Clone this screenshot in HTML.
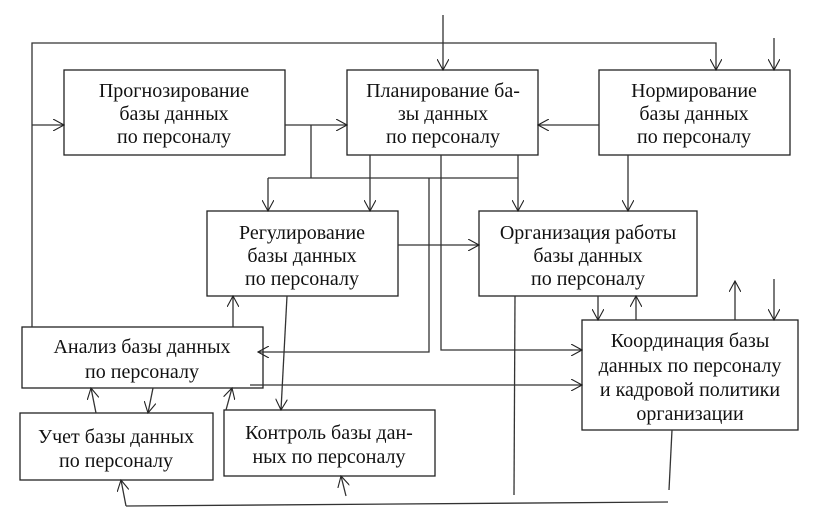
<!DOCTYPE html>
<html><head><meta charset="utf-8"><style>
html,body{margin:0;padding:0;background:#fff}
svg{display:block}
text{font-family:"Liberation Serif","DejaVu Serif",serif;font-size:20px;fill:#111;text-anchor:middle}
</style></head><body>
<svg width="828" height="528" viewBox="0 0 828 528" xmlns="http://www.w3.org/2000/svg">
<defs>
<marker id="a" markerWidth="12" markerHeight="12" refX="11" refY="6" orient="auto" markerUnits="userSpaceOnUse">
<path d="M0,0 L11,6 L0,12" fill="none" stroke="#222" stroke-width="1.1"/>
</marker>
</defs>
<g fill="#fff" stroke="#222" stroke-width="1.3">
<rect x="64" y="70" width="221" height="85"/>
<rect x="347" y="70" width="191" height="85"/>
<rect x="599" y="70" width="191" height="85"/>
<rect x="207" y="211" width="191" height="85"/>
<rect x="479" y="211" width="218" height="85"/>
<rect x="22" y="327" width="241" height="61"/>
<rect x="582" y="320" width="216" height="110"/>
<rect x="20" y="413" width="193" height="67"/>
<rect x="224" y="410" width="211" height="66"/>
</g>
<g fill="none" stroke="#333" stroke-width="1.3">
<polyline points="32,327 32,43 716,43 716,70" marker-end="url(#a)"/>
<line x1="443" y1="15" x2="443" y2="70" marker-end="url(#a)"/>
<line x1="774" y1="38" x2="774" y2="70" marker-end="url(#a)"/>
<line x1="32" y1="125" x2="64" y2="125" marker-end="url(#a)"/>
<line x1="285" y1="125" x2="347" y2="125" marker-end="url(#a)"/>
<polyline points="311,125 311,178"/>
<line x1="268" y1="178" x2="518" y2="178"/>
<line x1="268" y1="178" x2="268" y2="211" marker-end="url(#a)"/>
<line x1="370" y1="155" x2="370" y2="211" marker-end="url(#a)"/>
<line x1="518" y1="155" x2="518" y2="211" marker-end="url(#a)"/>
<line x1="599" y1="125" x2="538" y2="125" marker-end="url(#a)"/>
<line x1="628" y1="155" x2="628" y2="211" marker-end="url(#a)"/>
<line x1="398" y1="245" x2="479" y2="245" marker-end="url(#a)"/>
<polyline points="429,178 429,352 258,352" marker-end="url(#a)"/>
<polyline points="441,155 441,350 582,350" marker-end="url(#a)"/>
<line x1="250" y1="385" x2="582" y2="385" marker-end="url(#a)"/>
<line x1="233" y1="327" x2="233" y2="296" marker-end="url(#a)"/>
<line x1="287" y1="296" x2="281" y2="410" marker-end="url(#a)"/>
<line x1="598" y1="296" x2="598" y2="320" marker-end="url(#a)"/>
<line x1="636" y1="320" x2="636" y2="296" marker-end="url(#a)"/>
<line x1="515" y1="296" x2="514" y2="495"/>
<line x1="735" y1="320" x2="735" y2="281" marker-end="url(#a)"/>
<line x1="774" y1="279" x2="774" y2="320" marker-end="url(#a)"/>
<line x1="672" y1="430" x2="669" y2="490"/>
<line x1="126" y1="506" x2="668" y2="502"/>
<line x1="126" y1="506" x2="121" y2="480" marker-end="url(#a)"/>
<line x1="346" y1="496" x2="341" y2="476" marker-end="url(#a)"/>
<line x1="96" y1="413" x2="91" y2="388" marker-end="url(#a)"/>
<line x1="153" y1="388" x2="148" y2="413" marker-end="url(#a)"/>
<line x1="226" y1="410" x2="232" y2="388" marker-end="url(#a)"/>
</g>
<text x="174" y="97">Прогнозирование</text>
<text x="174" y="120">базы данных</text>
<text x="174" y="143">по персоналу</text>
<text x="443" y="97">Планирование ба-</text>
<text x="443" y="120">зы данных</text>
<text x="443" y="143">по персоналу</text>
<text x="694" y="97">Нормирование</text>
<text x="694" y="120">базы данных</text>
<text x="694" y="143">по персоналу</text>
<text x="302" y="239">Регулирование</text>
<text x="302" y="262">базы данных</text>
<text x="302" y="285">по персоналу</text>
<text x="588" y="239">Организация работы</text>
<text x="588" y="262">базы данных</text>
<text x="588" y="285">по персоналу</text>
<text x="142" y="353">Анализ базы данных</text>
<text x="142" y="378">по персоналу</text>
<text x="690" y="347">Координация базы</text>
<text x="690" y="372">данных по персоналу</text>
<text x="690" y="396">и кадровой политики</text>
<text x="690" y="420">организации</text>
<text x="116" y="443">Учет базы данных</text>
<text x="116" y="467">по персоналу</text>
<text x="329" y="439">Контроль базы дан-</text>
<text x="329" y="463">ных по персоналу</text>
</svg>
</body></html>
